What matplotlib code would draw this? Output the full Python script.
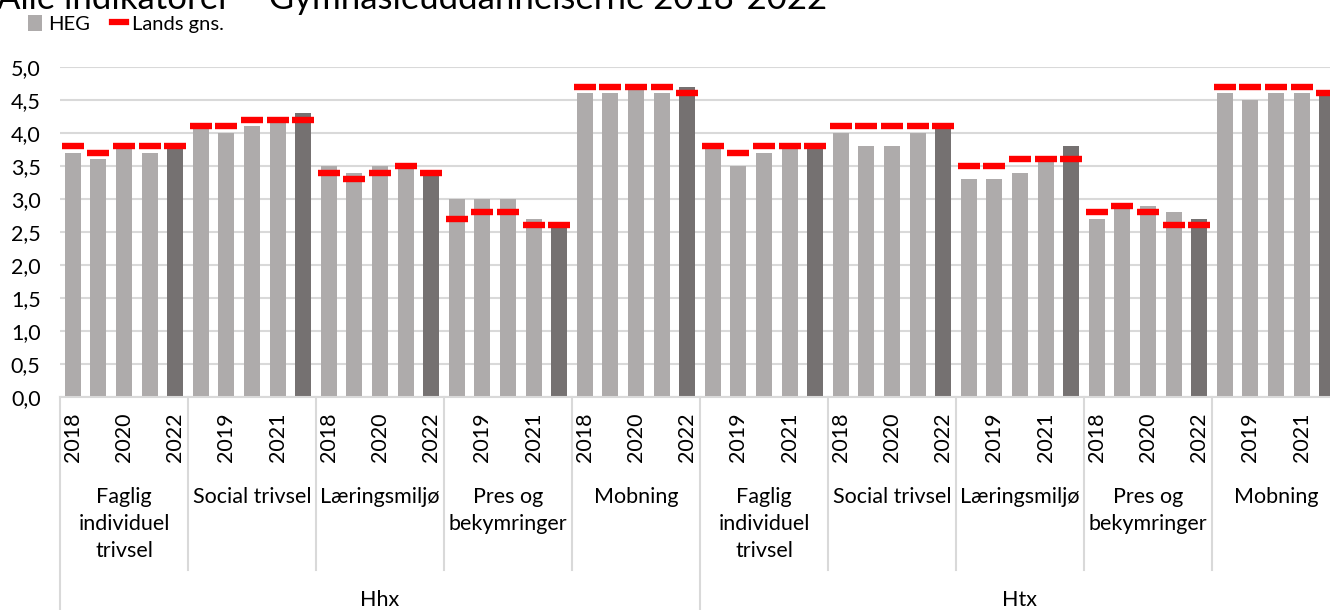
import numpy as np
import matplotlib
matplotlib.use("Agg")
import matplotlib.pyplot as plt
from matplotlib.patches import Patch
from matplotlib.lines import Line2D
import matplotlib.transforms as mtransforms

plt.rcParams['font.family'] = ['Lato', 'DejaVu Sans']

title = "Alle indikatorer \u2013 Gymnasieuddannelserne 2018-2022"
groups = ['Hhx', 'Htx']
categories = ['Faglig\nindividuel\ntrivsel', 'Social trivsel', 'Læringsmiljø',
              'Pres og\nbekymringer', 'Mobning']
years = ['2018', '2019', '2020', '2021', '2022']

# HEG values, 5 years per indicator
heg_hhx = [3.7, 3.6, 3.8, 3.7, 3.8,
           4.1, 4.0, 4.1, 4.2, 4.3,
           3.5, 3.4, 3.5, 3.5, 3.4,
           3.0, 3.0, 3.0, 2.7, 2.6,
           4.6, 4.6, 4.7, 4.6, 4.7]
heg_htx = [3.8, 3.5, 3.7, 3.8, 3.8,
           4.0, 3.8, 3.8, 4.0, 4.1,
           3.3, 3.3, 3.4, 3.6, 3.8,
           2.7, 2.9, 2.9, 2.8, 2.7,
           4.6, 4.5, 4.6, 4.6, 4.6]
# national average
lands_hhx = [3.8, 3.7, 3.8, 3.8, 3.8,
             4.1, 4.1, 4.2, 4.2, 4.2,
             3.4, 3.3, 3.4, 3.5, 3.4,
             2.7, 2.8, 2.8, 2.6, 2.6,
             4.7, 4.7, 4.7, 4.7, 4.6]
lands_htx = [3.8, 3.7, 3.8, 3.8, 3.8,
             4.1, 4.1, 4.1, 4.1, 4.1,
             3.5, 3.5, 3.6, 3.6, 3.6,
             2.8, 2.9, 2.8, 2.6, 2.6,
             4.7, 4.7, 4.7, 4.7, 4.6]

heg = heg_hhx + heg_htx
lands = lands_hhx + lands_htx
n = len(heg)
x = np.arange(n)
year_lbl = [years[i % 5] for i in range(n)]

LIGHT = '#AEABAB'
DARK = '#757171'
GRID = '#D9D9D9'
FS = 15.5

W, H = 1330, 610
fig = plt.figure(figsize=(W / 100, H / 100), dpi=100)
ax_left, ax_right, ax_top, ax_bot = 60, 1340, 67, 397
ax = fig.add_axes([ax_left / W, (H - ax_bot) / H, (ax_right - ax_left) / W, (ax_bot - ax_top) / H])

colors = [DARK if year_lbl[i] == '2022' else LIGHT for i in range(n)]
ax.bar(x, heg, width=0.63, color=colors, zorder=2)
ax.plot(x, lands, linestyle='none', marker='_', markersize=16.5,
        markeredgewidth=4.6, color='#FF0000', zorder=3)

ax.set_xlim(-0.5, n - 0.5)
ax.set_ylim(0, 5)
ax.set_yticks(np.arange(0, 5.01, 0.5))
ax.set_yticklabels([f"{v:.1f}".replace('.', ',') for v in np.arange(0, 5.01, 0.5)])
ax.grid(axis='y', color=GRID, linewidth=1.5, zorder=0)
ax.set_axisbelow(True)
for s in ['top', 'right', 'left']:
    ax.spines[s].set_visible(False)
ax.spines['bottom'].set_color(GRID)
ax.spines['bottom'].set_linewidth(1.5)

ax.set_xticks(x[::2])
ax.set_xticklabels(year_lbl[::2], rotation=90, va='top', ha='center')
ax.tick_params(axis='x', length=0, pad=11, labelsize=FS)
ax.tick_params(axis='y', length=0, pad=14, labelsize=FS)

ah = ax_bot - ax_top
trans = mtransforms.blended_transform_factory(ax.transData, ax.transAxes)

# category labels and separators
for g in range(len(groups)):
    for c, cat in enumerate(categories):
        start = g * 25 + c * 5
        ax.text(start + 2, -(487 - ax_bot) / ah, cat, transform=trans,
                ha='center', va='top', fontsize=FS, linespacing=1.45)
        if c > 0:
            ax.add_line(Line2D([start - 0.5, start - 0.5], [0, -(570 - ax_bot) / ah],
                               transform=trans, color=GRID, linewidth=1.5, clip_on=False))
    ax.text(g * 25 + 12, -(600 - ax_bot) / ah, groups[g], transform=trans,
            ha='center', va='center', fontsize=FS)
    ax.add_line(Line2D([g * 25 - 0.5, g * 25 - 0.5], [0, -(H - ax_bot) / ah],
                       transform=trans, color=GRID, linewidth=1.5, clip_on=False))

fig.text(-3 / W, (H - 9) / H, title, fontsize=25, ha='left', va='baseline')

handles = [Patch(facecolor=LIGHT, edgecolor='none'),
           Line2D([], [], color='#FF0000', linewidth=4.5)]
fig.legend(handles, ['HEG', 'Lands gns.'], loc='upper left', bbox_to_anchor=(14 / W, 1 - 1 / H),
           ncol=2, frameon=False, fontsize=14.5, handlelength=0.7, handleheight=0.8,
           handletextpad=0.3, columnspacing=1.1, borderpad=0.2)

fig.savefig('out.png', dpi=100)
